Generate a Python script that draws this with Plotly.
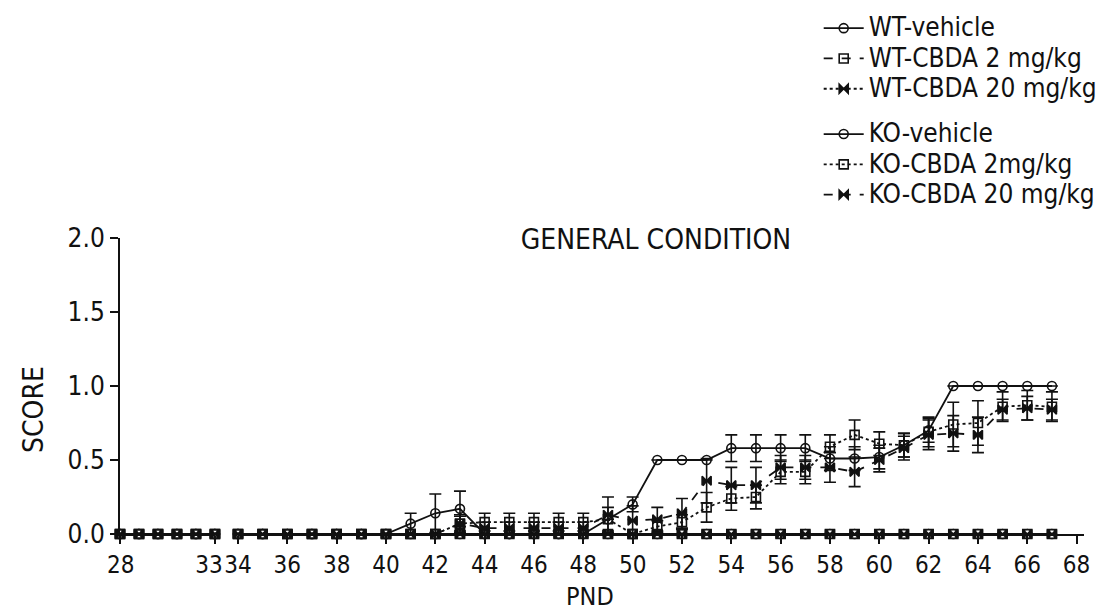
import plotly.graph_objects as go

# ---------------- data ----------------
PND = [28, 29, 30, 31, 32, 33,
       34, 35, 36, 37, 38, 39, 40, 41, 42, 43, 44, 45, 46, 47, 48, 49, 50,
       51, 52, 53, 54, 55, 56, 57, 58, 59, 60, 61, 62, 63, 64, 65, 66, 67]

WT_VEHICLE = [0, 0, 0, 0, 0, 0,
              0, 0, 0, 0, 0, 0, 0, 0, 0, 0, 0, 0, 0, 0, 0, 0, 0,
              0, 0, 0, 0, 0, 0, 0, 0, 0, 0, 0, 0, 0, 0, 0, 0, 0]
WT_CBDA2 = [0, 0, 0, 0, 0, 0,
            0, 0, 0, 0, 0, 0, 0, 0, 0, 0, 0, 0, 0, 0, 0, 0, 0,
            0, 0, 0, 0, 0, 0, 0, 0, 0, 0, 0, 0, 0, 0, 0, 0, 0]
WT_CBDA20 = [0, 0, 0, 0, 0, 0,
             0, 0, 0, 0, 0, 0, 0, 0, 0, 0, 0, 0, 0, 0, 0, 0, 0,
             0, 0, 0, 0, 0, 0, 0, 0, 0, 0, 0, 0, 0, 0, 0, 0, 0]

KO_VEHICLE = [0, 0, 0, 0, 0, 0,
              0, 0, 0, 0, 0, 0, 0, 0.07, 0.14, 0.17, 0, 0, 0, 0, 0, 0.10, 0.20,
              0.50, 0.50, 0.50, 0.58, 0.58, 0.58, 0.58, 0.51, 0.51, 0.52, 0.60, 0.70, 1.0, 1.0, 1.0, 1.0, 1.0]
KO_VEHICLE_SEM = [0, 0, 0, 0, 0, 0,
                  0, 0, 0, 0, 0, 0, 0, 0.07, 0.13, 0.12, 0, 0, 0, 0, 0, 0.0, 0.05,
                  0, 0, 0, 0.09, 0.09, 0.09, 0.09, 0.08, 0.08, 0.08, 0.08, 0.08, 0, 0, 0, 0, 0]

KO_CBDA2 = [0, 0, 0, 0, 0, 0,
            0, 0, 0, 0, 0, 0, 0, 0, 0, 0.07, 0.08, 0.08, 0.08, 0.08, 0.08, 0.10, 0.0,
            0.05, 0.08, 0.18, 0.24, 0.25, 0.42, 0.42, 0.59, 0.67, 0.61, 0.60, 0.69, 0.74, 0.75, 0.86, 0.87, 0.86]
KO_CBDA2_SEM = [0, 0, 0, 0, 0, 0,
                0, 0, 0, 0, 0, 0, 0, 0, 0, 0.05, 0.06, 0.06, 0.06, 0.06, 0.06, 0.08, 0,
                0.04, 0.05, 0.10, 0.08, 0.08, 0.08, 0.08, 0.08, 0.10, 0.08, 0.08, 0.10, 0.15, 0.15, 0.10, 0.10, 0.10]

KO_CBDA20 = [0, 0, 0, 0, 0, 0,
             0, 0, 0, 0, 0, 0, 0, 0, 0, 0.07, 0.04, 0.04, 0.04, 0.04, 0.04, 0.13, 0.09,
             0.10, 0.14, 0.36, 0.33, 0.33, 0.45, 0.45, 0.45, 0.42, 0.50, 0.58, 0.67, 0.68, 0.67, 0.84, 0.85, 0.84]
KO_CBDA20_SEM = [0, 0, 0, 0, 0, 0,
                 0, 0, 0, 0, 0, 0, 0, 0, 0, 0.06, 0.04, 0.04, 0.04, 0.04, 0.04, 0.12, 0.10,
                 0.08, 0.10, 0.15, 0.12, 0.12, 0.08, 0.08, 0.10, 0.10, 0.08, 0.08, 0.10, 0.12, 0.12, 0.07, 0.08, 0.07]

X_TICKS_SEG1 = [28, 33]
X_TICK_TEXT_SEG1 = ["\u00a0\u00a028", "33"]
X_TICKS_SEG2 = [34, 36, 38, 40, 42, 44, 46, 48, 50, 52, 54, 56, 58, 60, 62, 64, 66, 68]
Y_TICKS = [0, 0.5, 1.0, 1.5, 2.0]
Y_TICK_TEXT = ["0.0", "0.5", "1.0", "1.5", "2.0"]
BREAK_AFTER = 33

SERIES = [
    ("WT-vehicle", WT_VEHICLE, None, "WT", "solid", "circle-open"),
    ("WT-CBDA 2 mg/kg", WT_CBDA2, None, "WT", "dash", "square-open"),
    ("WT-CBDA 20 mg/kg", WT_CBDA20, None, "WT", "dot", "bowtie"),
    ("KO-vehicle", KO_VEHICLE, KO_VEHICLE_SEM, "KO", "solid", "circle-open"),
    ("KO-CBDA 2mg/kg", KO_CBDA2, KO_CBDA2_SEM, "KO", "dot", "square-open"),
    ("KO-CBDA 20 mg/kg", KO_CBDA20, KO_CBDA20_SEM, "KO", "dash", "bowtie"),
]

FONT = "DejaVu Sans Condensed, Liberation Sans Narrow, Liberation Sans, Arial, sans-serif"
INK = "#111111"

fig = go.Figure()

for name, vals, sem, grp, dash, sym in SERIES:
    for seg, xa in ((1, "x"), (2, "x2")):
        idx = [i for i, d in enumerate(PND) if (d <= BREAK_AFTER) == (seg == 1)]
        xs = [PND[i] for i in idx]
        ys = [vals[i] for i in idx]
        err = None
        if sem is not None:
            err = dict(type="data", array=[sem[i] for i in idx], visible=True,
                       color=INK, thickness=1.6, width=6)
        fig.add_trace(go.Scatter(
            x=xs, y=ys, xaxis=xa, yaxis="y",
            name='<span style="font-size:26px">' + name + '</span>',
            mode="lines+markers",
            line=dict(color=INK, width=1.8, dash=dash),
            marker=dict(symbol=sym, size=9, color=INK,
                        line=dict(color=INK, width=1.6)),
            error_y=err, cliponaxis=False,
            legendgroup=grp, showlegend=(seg == 2),
        ))

axis_common = dict(showline=True, linecolor=INK, linewidth=2, ticks="outside",
                   ticklen=8, tickwidth=2, tickcolor=INK, showgrid=False,
                   zeroline=False, tickangle=0)
xfont = dict(family=FONT, size=24, color=INK)
yfont = dict(family=FONT, size=26, color=INK)

fig.update_layout(
    width=1106, height=610,
    margin=dict(l=112, r=30, t=230, b=84, autoexpand=False),
    paper_bgcolor="white", plot_bgcolor="white",
    font=dict(family=FONT, color=INK),
    xaxis=dict(domain=[0, 0.0985], range=[28, 33], tickvals=X_TICKS_SEG1,
               ticktext=X_TICK_TEXT_SEG1, ticklabelshift=-6,
               anchor="y", tickfont=xfont, **axis_common),
    xaxis2=dict(domain=[0.1224, 1], range=[34, 68.3], tickvals=X_TICKS_SEG2,
                anchor="y", tickfont=xfont, **axis_common),
    yaxis=dict(range=[0, 2], tickvals=Y_TICKS, ticktext=Y_TICK_TEXT,
               tickfont=yfont, **axis_common),
    legend=dict(xref="container", yref="container", x=0.733, y=1.017,
                xanchor="left", yanchor="top", traceorder="grouped",
                tracegroupgap=15, font=dict(family=FONT, size=21, color=INK),
                bgcolor="rgba(0,0,0,0)", itemwidth=40),
    showlegend=True,
    title=dict(text="GENERAL CONDITION", x=648 / 1106, y=1 - 231 / 610,
               xanchor="center", yanchor="middle",
               font=dict(family=FONT, size=28, color=INK)),
    annotations=[
        dict(text="PND", xref="paper", yref="paper",
             x=(582 - 112) / 964, y=-(588 - 526) / 296,
             xanchor="center", yanchor="middle", showarrow=False,
             font=dict(family=FONT, size=25, color=INK)),
        dict(text="SCORE", xref="paper", yref="paper", textangle=-90,
             x=(25 - 112) / 964, y=(526 - 402) / 296,
             xanchor="center", yanchor="middle", showarrow=False,
             font=dict(family=FONT, size=28, color=INK)),
    ],
)

fig.write_html("out.html")
